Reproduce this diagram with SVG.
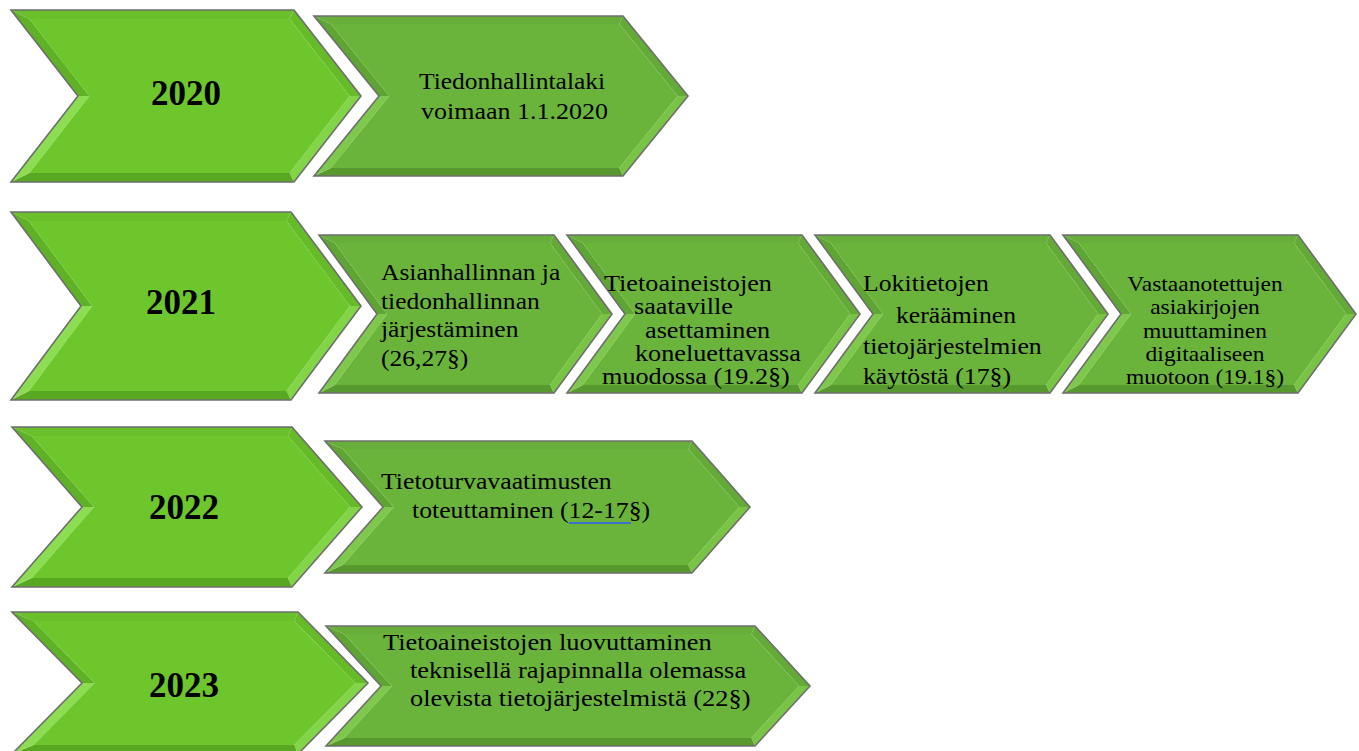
<svg xmlns="http://www.w3.org/2000/svg" width="1359" height="751" viewBox="0 0 1359 751">
<style>
.out{fill:none;stroke:#6e6e6e;stroke-width:1.6;stroke-linejoin:miter}
.big .face{fill:#6dc62c}.big .ft{fill:#69c02a}.big .ful{fill:#5fb125}.big .fll{fill:#8ddd52}.big .fur{fill:#66bb28}.big .flr{fill:#82d546}.big .fb{fill:#59a822}
.sm .face{fill:#6bb43c}.sm .ft{fill:#68ae3a}.sm .ful{fill:#5ea534}.sm .fll{fill:#7ec94b}.sm .fur{fill:#63aa36}.sm .flr{fill:#79c445}.sm .fb{fill:#58992f}
.t{font-family:"Liberation Serif","Times New Roman",serif;font-size:23px;fill:#000}
.t4{font-family:"Liberation Serif","Times New Roman",serif;font-size:21px;fill:#000;text-anchor:middle}
.yr{font-family:"Liberation Serif","Times New Roman",serif;font-size:35px;font-weight:bold;fill:#000;text-anchor:middle}
</style>
<rect width="1359" height="751" fill="#ffffff"/>

<!-- Row 2020 -->
<g id="y2020" class="big">
<polygon class="ft" points="11,10 294,10 289.6,19 29.4,19"/>
<polygon class="fur" points="294,10 361,96 349.6,96 289.6,19"/>
<polygon class="flr" points="361,96 294,182 289.6,173 349.6,96"/>
<polygon class="fb" points="294,182 11,182 29.4,173 289.6,173"/>
<polygon class="fll" points="11,182 78,96 89.4,96 29.4,173"/>
<polygon class="ful" points="78,96 11,10 29.4,19 89.4,96"/>
<polygon class="face" points="29.4,19 289.6,19 349.6,96 289.6,173 29.4,173 89.4,96"/>
<polygon class="out" points="11,10 294,10 361,96 294,182 11,182 78,96"/>
<text class="yr" x="186" y="105">2020</text>
</g>
<g id="n2020" class="sm">
<polygon class="ft" points="314,16 623,16 619.2,24 330.8,24"/>
<polygon class="fur" points="623,16 688,96 677.7,96 619.2,24"/>
<polygon class="flr" points="688,96 623,176 619.2,168 677.7,96"/>
<polygon class="fb" points="623,176 314,176 330.8,168 619.2,168"/>
<polygon class="fll" points="314,176 379,96 389.3,96 330.8,168"/>
<polygon class="ful" points="379,96 314,16 330.8,24 389.3,96"/>
<polygon class="face" points="330.8,24 619.2,24 677.7,96 619.2,168 330.8,168 389.3,96"/>
<polygon class="out" points="314,16 623,16 688,96 623,176 314,176 379,96"/>
<text class="t" x="0" y="89" transform="translate(419,0) scale(1.11,1)">Tiedonhallintalaki</text>
<text class="t" x="0" y="119" transform="translate(421,0) scale(1.13,1)">voimaan 1.1.2020</text>
</g>

<!-- Row 2021 -->
<g id="y2021" class="big">
<polygon class="ft" points="11,212 291,212 286.5,221 28.9,221"/>
<polygon class="fur" points="291,212 361,306 349.8,306 286.5,221"/>
<polygon class="flr" points="361,306 291,400 286.5,391 349.8,306"/>
<polygon class="fb" points="291,400 11,400 28.9,391 286.5,391"/>
<polygon class="fll" points="11,400 81,306 92.2,306 28.9,391"/>
<polygon class="ful" points="81,306 11,212 28.9,221 92.2,306"/>
<polygon class="face" points="28.9,221 286.5,221 349.8,306 286.5,391 28.9,391 92.2,306"/>
<polygon class="out" points="11,212 291,212 361,306 291,400 11,400 81,306"/>
<text class="yr" x="181" y="314">2021</text>
</g>
<g id="n2021a" class="sm">
<polygon class="ft" points="319,235 554,235 550,243 334.8,243"/>
<polygon class="fur" points="554,235 612,314 602.1,314 550,243"/>
<polygon class="flr" points="612,314 554,393 550,385 602.1,314"/>
<polygon class="fb" points="554,393 319,393 334.8,385 550,385"/>
<polygon class="fll" points="319,393 377,314 386.9,314 334.8,385"/>
<polygon class="ful" points="377,314 319,235 334.8,243 386.9,314"/>
<polygon class="face" points="334.8,243 550,243 602.1,314 550,385 334.8,385 386.9,314"/>
<polygon class="out" points="319,235 554,235 612,314 554,393 319,393 377,314"/>
<g transform="translate(381,0) scale(1.11,1)">
<text class="t" x="0" y="280">Asianhallinnan ja</text>
<text class="t" x="0" y="309">tiedonhallinnan</text>
<text class="t" x="0" y="337">järjestäminen</text>
<text class="t" x="0" y="366">(26,27§)</text>
</g>
</g>
<g id="n2021b" class="sm">
<polygon class="ft" points="567,235 802,235 798,243 582.8,243"/>
<polygon class="fur" points="802,235 860,314 850.1,314 798,243"/>
<polygon class="flr" points="860,314 802,393 798,385 850.1,314"/>
<polygon class="fb" points="802,393 567,393 582.8,385 798,385"/>
<polygon class="fll" points="567,393 625,314 634.9,314 582.8,385"/>
<polygon class="ful" points="625,314 567,235 582.8,243 634.9,314"/>
<polygon class="face" points="582.8,243 798,243 850.1,314 798,385 582.8,385 634.9,314"/>
<polygon class="out" points="567,235 802,235 860,314 802,393 567,393 625,314"/>
<text class="t" x="0" y="291" transform="translate(604,0) scale(1.14,1)">Tietoaineistojen</text>
<text class="t" x="0" y="314" transform="translate(634,0) scale(1.14,1)">saataville</text>
<text class="t" x="0" y="338" transform="translate(645,0) scale(1.14,1)">asettaminen</text>
<text class="t" x="0" y="361" transform="translate(635,0) scale(1.14,1)">koneluettavassa</text>
<text class="t" x="0" y="384" transform="translate(602,0) scale(1.14,1)">muodossa (19.2§)</text>
</g>
<g id="n2021c" class="sm">
<polygon class="ft" points="815,235 1050,235 1046,243 830.8,243"/>
<polygon class="fur" points="1050,235 1108,314 1098.1,314 1046,243"/>
<polygon class="flr" points="1108,314 1050,393 1046,385 1098.1,314"/>
<polygon class="fb" points="1050,393 815,393 830.8,385 1046,385"/>
<polygon class="fll" points="815,393 873,314 882.9,314 830.8,385"/>
<polygon class="ful" points="873,314 815,235 830.8,243 882.9,314"/>
<polygon class="face" points="830.8,243 1046,243 1098.1,314 1046,385 830.8,385 882.9,314"/>
<polygon class="out" points="815,235 1050,235 1108,314 1050,393 815,393 873,314"/>
<text class="t" x="0" y="291" transform="translate(863,0) scale(1.12,1)">Lokitietojen</text>
<text class="t" x="0" y="323" transform="translate(896,0) scale(1.12,1)">kerääminen</text>
<text class="t" x="0" y="354" transform="translate(863,0) scale(1.12,1)">tietojärjestelmien</text>
<text class="t" x="0" y="384" transform="translate(863,0) scale(1.12,1)">käytöstä (17§)</text>
</g>
<g id="n2021d" class="sm">
<polygon class="ft" points="1063,235 1298,235 1294,243 1078.8,243"/>
<polygon class="fur" points="1298,235 1356,314 1346.1,314 1294,243"/>
<polygon class="flr" points="1356,314 1298,393 1294,385 1346.1,314"/>
<polygon class="fb" points="1298,393 1063,393 1078.8,385 1294,385"/>
<polygon class="fll" points="1063,393 1121,314 1130.9,314 1078.8,385"/>
<polygon class="ful" points="1121,314 1063,235 1078.8,243 1130.9,314"/>
<polygon class="face" points="1078.8,243 1294,243 1346.1,314 1294,385 1078.8,385 1130.9,314"/>
<polygon class="out" points="1063,235 1298,235 1356,314 1298,393 1063,393 1121,314"/>
<g transform="translate(1205,0) scale(1.12,1)">
<text class="t4" x="0" y="291">Vastaanotettujen</text>
<text class="t4" x="0" y="314">asiakirjojen</text>
<text class="t4" x="0" y="338">muuttaminen</text>
<text class="t4" x="0" y="361">digitaaliseen</text>
<text class="t4" x="0" y="384">muotoon (19.1§)</text>
</g>
</g>

<!-- Row 2022 -->
<g id="y2022" class="big">
<polygon class="ft" points="12,427 292,427 287.9,436 31.9,436"/>
<polygon class="fur" points="292,427 362,507 350,507 287.9,436"/>
<polygon class="flr" points="362,507 292,587 287.9,578 350,507"/>
<polygon class="fb" points="292,587 12,587 31.9,578 287.9,578"/>
<polygon class="fll" points="12,587 82,507 94,507 31.9,578"/>
<polygon class="ful" points="82,507 12,427 31.9,436 94,507"/>
<polygon class="face" points="31.9,436 287.9,436 350,507 287.9,578 31.9,578 94,507"/>
<polygon class="out" points="12,427 292,427 362,507 292,587 12,587 82,507"/>
<text class="yr" x="184" y="519">2022</text>
</g>
<g id="n2022" class="sm">
<polygon class="ft" points="325,441 692,441 688.3,449 342.7,449"/>
<polygon class="fur" points="692,441 750,507 739.3,507 688.3,449"/>
<polygon class="flr" points="750,507 692,573 688.3,565 739.3,507"/>
<polygon class="fb" points="692,573 325,573 342.7,565 688.3,565"/>
<polygon class="fll" points="325,573 383,507 393.7,507 342.7,565"/>
<polygon class="ful" points="383,507 325,441 342.7,449 393.7,507"/>
<polygon class="face" points="342.7,449 688.3,449 739.3,507 688.3,565 342.7,565 393.7,507"/>
<polygon class="out" points="325,441 692,441 750,507 692,573 325,573 383,507"/>
<text class="t" x="0" y="489" transform="translate(381,0) scale(1.12,1)">Tietoturvavaatimusten</text>
<text class="t" x="0" y="518" transform="translate(412,0) scale(1.12,1)">toteuttaminen (12-17§)</text>
<line x1="569" y1="523" x2="631" y2="523" stroke="#3c6fc6" stroke-width="2"/>
</g>

<!-- Row 2023 -->
<g id="y2023" class="big">
<polygon class="ft" points="12,612 298,612 294.3,621 33.5,621"/>
<polygon class="fur" points="298,612 368,683 355.4,683 294.3,621"/>
<polygon class="flr" points="368,683 298,754 294.3,745 355.4,683"/>
<polygon class="fb" points="298,754 12,754 33.5,745 294.3,745"/>
<polygon class="fll" points="12,754 82,683 94.6,683 33.5,745"/>
<polygon class="ful" points="82,683 12,612 33.5,621 94.6,683"/>
<polygon class="face" points="33.5,621 294.3,621 355.4,683 294.3,745 33.5,745 94.6,683"/>
<polygon class="out" points="12,612 298,612 368,683 298,754 12,754 82,683"/>
<text class="yr" x="184" y="697">2023</text>
</g>
<g id="n2023" class="sm">
<polygon class="ft" points="326,626 755,626 751.4,634 344.2,634"/>
<polygon class="fur" points="755,626 810,686 799.1,686 751.4,634"/>
<polygon class="flr" points="810,686 755,746 751.4,738 799.1,686"/>
<polygon class="fb" points="755,746 326,746 344.2,738 751.4,738"/>
<polygon class="fll" points="326,746 381,686 391.9,686 344.2,738"/>
<polygon class="ful" points="381,686 326,626 344.2,634 391.9,686"/>
<polygon class="face" points="344.2,634 751.4,634 799.1,686 751.4,738 344.2,738 391.9,686"/>
<polygon class="out" points="326,626 755,626 810,686 755,746 326,746 381,686"/>
<text class="t" x="0" y="650" transform="translate(383,0) scale(1.15,1)">Tietoaineistojen luovuttaminen</text>
<text class="t" x="0" y="678" transform="translate(410,0) scale(1.15,1)">teknisellä rajapinnalla olemassa</text>
<text class="t" x="0" y="706" transform="translate(410,0) scale(1.15,1)">olevista tietojärjestelmistä (22§)</text>
</g>

<g id="connectors"></g>
</svg>
